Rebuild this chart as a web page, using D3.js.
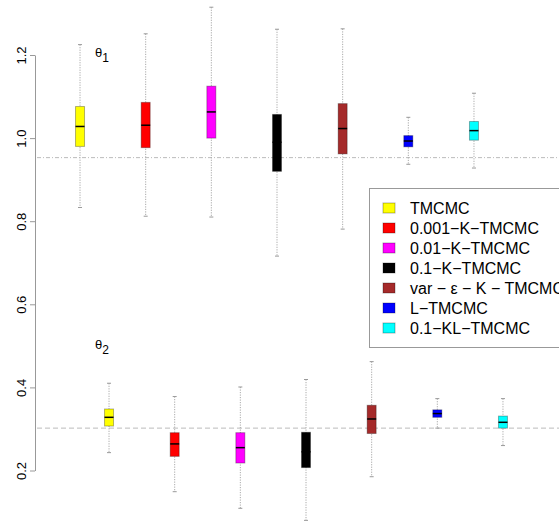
<!DOCTYPE html>
<html>

<head>
    <title>Boxplots theta1 theta2</title>
    <script src="https://d3js.org/d3.v7.min.js"></script>
    <style>
        body { margin: 0; background: #fff; }
        text { font-family: "Liberation Sans", Arial, sans-serif; }
        .whisker { stroke: #aaa; stroke-width: 1; stroke-dasharray: 1.2,1.3; }
        .cap { stroke: #999; stroke-width: 1; }
    </style>
</head>

<body>
    <div id="chart"></div>
    <script>
        const methods = ["TMCMC", "0.001−K−TMCMC", "0.01−K−TMCMC", "0.1−K−TMCMC",
            "var − ε − K − TMCMC", "L−TMCMC", "0.1−KL−TMCMC"]
        const colors = ["#ffff00", "#ff0000", "#ff00ff", "#000000", "#a52a2a", "#0000ff", "#00ffff"]

        // theta1 box stats (lower whisker, q1, median, q3, upper whisker)
        const theta1Min = [0.833, 0.812, 0.810, 0.716, 0.781, 0.937, 0.928]
        const theta1Q1 = [0.980, 0.977, 1.000, 0.920, 0.962, 0.979, 0.995]
        const theta1Med = [1.028, 1.031, 1.063, 0.990, 1.023, 0.993, 1.018]
        const theta1Q3 = [1.076, 1.086, 1.125, 1.057, 1.083, 1.006, 1.040]
        const theta1Max = [1.225, 1.251, 1.315, 1.262, 1.263, 1.050, 1.108]
        const theta1True = 0.953

        // theta2 box stats
        const theta2Min = [0.243, 0.149, 0.109, 0.080, 0.185, 0.302, 0.260]
        const theta2Q1 = [0.307, 0.234, 0.218, 0.207, 0.289, 0.328, 0.302]
        const theta2Med = [0.328, 0.264, 0.255, 0.245, 0.324, 0.337, 0.316]
        const theta2Q3 = [0.348, 0.291, 0.291, 0.292, 0.357, 0.346, 0.331]
        const theta2Max = [0.410, 0.378, 0.401, 0.419, 0.462, 0.373, 0.373]
        const theta2True = 0.302

        const yTicks = [0.2, 0.4, 0.6, 0.8, 1.0, 1.2]

        const width = 559, height = 521
        const svg = d3.select("#chart").append("svg")
            .attr("width", width).attr("height", height)

        const y = d3.scaleLinear().domain([0.2, 1.2]).range([470.5, 55])
        // the two groups are drawn with shifted x positions
        const x1 = d3.scaleBand().domain(methods).range([47.2, 506.8])
        const x2 = d3.scaleBand().domain(methods).range([76.2, 535.8])

        // axis
        const axis = svg.append("g")
            .attr("transform", "translate(35,0)")
            .call(d3.axisLeft(y).tickValues(yTicks).tickFormat(d3.format(".1f")).tickSize(5).tickSizeOuter(0))
        axis.select(".domain").attr("stroke", "#999")
        axis.selectAll(".tick line").attr("stroke", "#999")
        axis.selectAll(".tick text")
            .attr("transform", "rotate(-90)")
            .attr("x", 0).attr("y", -9).attr("dy", 0)
            .attr("text-anchor", "middle")
            .attr("fill", "#000")
            .style("font-size", "13px")

        // reference lines
        svg.append("line")
            .attr("x1", 37).attr("x2", width)
            .attr("y1", y(theta1True)).attr("y2", y(theta1True))
            .attr("stroke", "#bbb").attr("stroke-dasharray", "4,2,1,2")
        svg.append("line")
            .attr("x1", 37).attr("x2", width)
            .attr("y1", y(theta2True)).attr("y2", y(theta2True))
            .attr("stroke", "#bbb").attr("stroke-dasharray", "5,3")

        const drawGroup = (xs, mins, q1s, meds, q3s, maxs) => {
            const rows = methods.map((m, i) => ({
                m, c: colors[i], lo: mins[i], q1: q1s[i], med: meds[i], q3: q3s[i], hi: maxs[i]
            }))
            const g = svg.append("g")
            const bw = 9
            const cx = d => xs(d.m) + xs.bandwidth() / 2
            g.selectAll(".whisker").data(rows).join("line")
                .attr("class", "whisker")
                .attr("x1", cx).attr("x2", cx)
                .attr("y1", d => y(d.hi)).attr("y2", d => y(d.lo))
            g.selectAll(".capHi").data(rows).join("line")
                .attr("class", "cap")
                .attr("x1", d => cx(d) - 2).attr("x2", d => cx(d) + 2)
                .attr("y1", d => y(d.hi)).attr("y2", d => y(d.hi))
            g.selectAll(".capLo").data(rows).join("line")
                .attr("class", "cap")
                .attr("x1", d => cx(d) - 2).attr("x2", d => cx(d) + 2)
                .attr("y1", d => y(d.lo)).attr("y2", d => y(d.lo))
            g.selectAll(".box").data(rows).join("rect")
                .attr("x", d => cx(d) - bw / 2)
                .attr("y", d => y(d.q3))
                .attr("width", bw)
                .attr("height", d => y(d.q1) - y(d.q3))
                .attr("fill", d => d.c)
                .attr("stroke", "rgba(0,0,0,0.3)")
            g.selectAll(".med").data(rows).join("line")
                .attr("x1", d => cx(d) - bw / 2).attr("x2", d => cx(d) + bw / 2)
                .attr("y1", d => y(d.med)).attr("y2", d => y(d.med))
                .attr("stroke", "#000").attr("stroke-width", 1.5)
        }

        drawGroup(x1, theta1Min, theta1Q1, theta1Med, theta1Q3, theta1Max)
        drawGroup(x2, theta2Min, theta2Q1, theta2Med, theta2Q3, theta2Max)

        // theta labels
        const lab = (px, py, sub) => {
            const t = svg.append("text").attr("x", px).attr("y", py).style("font-size", "13px")
            t.append("tspan").text("θ")
            t.append("tspan").attr("dy", 5).style("font-size", "12px").text(sub)
        }
        lab(95, 57, "1")
        lab(95, 349, "2")

        // legend
        const leg = svg.append("g").attr("transform", "translate(369,188)")
        leg.append("rect")
            .attr("x", 0.5).attr("y", 0.5).attr("width", 220).attr("height", 159)
            .attr("fill", "#fff").attr("stroke", "#999")
        const items = leg.selectAll(".item").data(methods).join("g")
            .attr("transform", (d, i) => `translate(0,${20 + i * 20})`)
        items.append("rect")
            .attr("x", 14).attr("y", -5).attr("width", 12).attr("height", 10)
            .attr("fill", (d, i) => colors[i])
            .attr("stroke", "rgba(0,0,0,0.3)")
        items.append("text")
            .attr("x", 41).attr("y", 0).attr("dy", "0.36em")
            .style("font-size", "16px")
            .text(d => d)
    </script>
</body>

</html>
